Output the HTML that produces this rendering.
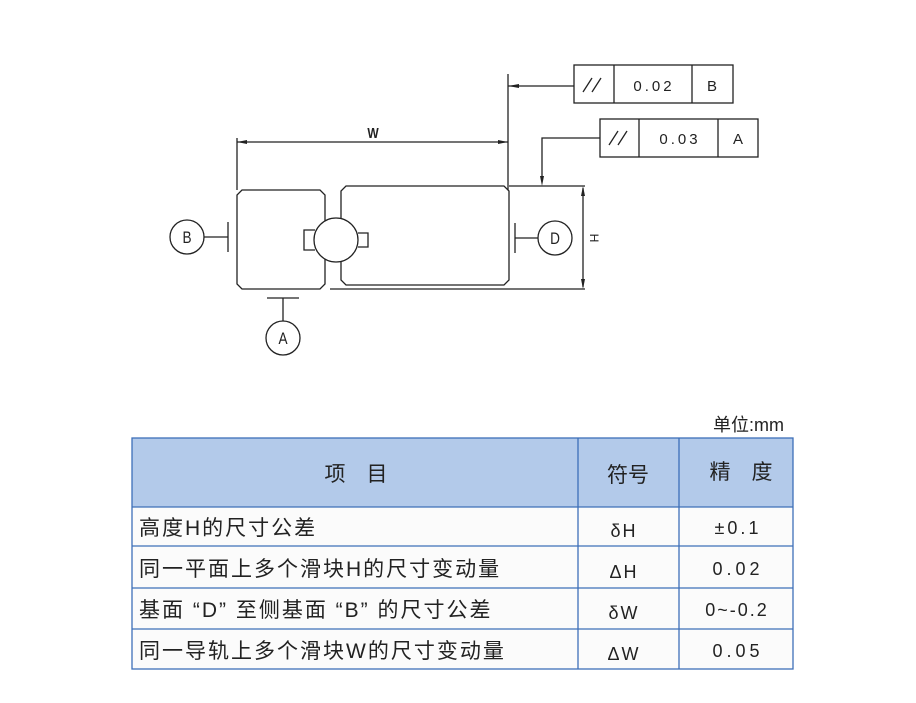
<!DOCTYPE html>
<html><head><meta charset="utf-8"><style>
html,body{margin:0;padding:0;background:#fff;}
body{width:916px;height:703px;overflow:hidden;}
svg{display:block;}
.c{font-family:"Liberation Sans","Noto Sans CJK SC",sans-serif;}
</style></head><body>
<svg width="916" height="703" viewBox="0 0 916 703" xmlns="http://www.w3.org/2000/svg">
<g stroke="#222" stroke-width="1.3" fill="none">
 <line x1="237" y1="142" x2="508" y2="142"/>
 <line x1="237" y1="138" x2="237" y2="190"/>
 <line x1="508" y1="74" x2="508" y2="190"/>
 <line x1="508" y1="86" x2="574" y2="86"/>
 <polyline points="600,138 542,138 542,180"/>
 <path d="M325,221 V195 L320,190 H242 L237,195 V284 L242,289 H320 L325,284 V258"/>
 <path d="M341,221 V191 L346,186 H504 L509,191 V280 L504,285 H346 L341,280 V258"/>
 <line x1="509" y1="186" x2="585" y2="186"/>
 <line x1="330" y1="289" x2="585" y2="289"/>
 <line x1="583" y1="188" x2="583" y2="287"/>
 <circle cx="336" cy="240" r="22" fill="#fff"/>
 <polyline points="315,230 304,230 304,250 315,250"/>
 <polyline points="358,233 368,233 368,247 358,247"/>
 <circle cx="187" cy="237" r="17"/>
 <line x1="204" y1="237" x2="228" y2="237"/>
 <line x1="228" y1="222" x2="228" y2="252"/>
 <circle cx="555" cy="238" r="17"/>
 <line x1="515" y1="238" x2="538" y2="238"/>
 <line x1="515" y1="223" x2="515" y2="253"/>
 <circle cx="283" cy="338" r="17"/>
 <line x1="283" y1="298" x2="283" y2="321"/>
 <line x1="267" y1="298" x2="299" y2="298"/>
 <rect x="574" y="65" width="159" height="38" fill="#fff"/>
 <line x1="614" y1="65" x2="614" y2="103"/>
 <line x1="692" y1="65" x2="692" y2="103"/>
 <rect x="600" y="119" width="158" height="38" fill="#fff"/>
 <line x1="639" y1="119" x2="639" y2="157"/>
 <line x1="718" y1="119" x2="718" y2="157"/>
 <line x1="583" y1="92" x2="592" y2="78"/>
 <line x1="592" y1="92" x2="601" y2="78"/>
 <line x1="609" y1="145" x2="618" y2="131"/>
 <line x1="618" y1="145" x2="627" y2="131"/>
</g>
<g fill="#222">
 <polygon points="237,142 247,140 247,144"/>
 <polygon points="508,142 498,140 498,144"/>
 <polygon points="508,86 519,84 519,88"/>
 <polygon points="542,186 540,176 544,176"/>
 <polygon points="583,186 581,196 585,196"/>
 <polygon points="583,289 581,279 585,279"/>
</g>
<g class="c" fill="#222" text-anchor="middle">
 <text x="373" y="138" font-size="15" transform="translate(373,0) scale(0.8,1) translate(-373,0)" font-weight="bold">W</text>
 <text x="187" y="243" font-size="17" transform="translate(187,0) scale(0.8,1) translate(-187,0)">B</text>
 <text x="555" y="244" font-size="17" transform="translate(555,0) scale(0.8,1) translate(-555,0)">D</text>
 <text x="283" y="344" font-size="17" transform="translate(283,0) scale(0.8,1) translate(-283,0)">A</text>
 <text transform="translate(590,238) rotate(90)" font-size="12">H</text>
 <text x="654" y="91" font-size="15" letter-spacing="3">0.02</text>
 <text x="712" y="91" font-size="15">B</text>
 <text x="680" y="144" font-size="15" letter-spacing="3">0.03</text>
 <text x="738" y="144" font-size="15">A</text>
</g>
<text class="c" x="784" y="431" font-size="18" text-anchor="end" fill="#222">单位:mm</text>
<rect x="132" y="438" width="661" height="69" fill="#b3caea"/>
<rect x="132" y="507" width="661" height="162" fill="#fbfbfb"/>
<g stroke="#3e6fb8" stroke-width="1.3" fill="none">
 <rect x="132" y="438" width="661" height="231"/>
 <line x1="132" y1="507" x2="793" y2="507"/>
 <line x1="132" y1="546" x2="793" y2="546"/>
 <line x1="132" y1="588" x2="793" y2="588"/>
 <line x1="132" y1="629" x2="793" y2="629"/>
 <line x1="578" y1="438" x2="578" y2="669"/>
 <line x1="679" y1="438" x2="679" y2="669"/>
</g>
<g class="c" fill="#222" font-size="21">
 <text x="356" y="481" text-anchor="middle">项　目</text>
 <text x="628" y="482" text-anchor="middle">符号</text>
 <text x="741" y="479" text-anchor="middle">精　度</text>
 <g letter-spacing="2">
 <text x="139" y="535">高度H的尺寸公差</text>
 <text x="139" y="576">同一平面上多个滑块H的尺寸变动量</text>
 <text x="139" y="617">基面 “D” 至侧基面 “B” 的尺寸公差</text>
 <text x="139" y="658">同一导轨上多个滑块W的尺寸变动量</text>
 </g>
 <g text-anchor="middle" font-size="18">
  <text x="624" y="537" letter-spacing="2">δH</text>
  <text x="624" y="578" letter-spacing="2">ΔH</text>
  <text x="624" y="619" letter-spacing="2">δW</text>
  <text x="624" y="660" letter-spacing="2">ΔW</text>
  <text x="738" y="534" letter-spacing="3">±0.1</text>
  <text x="738" y="575" letter-spacing="4">0.02</text>
  <text x="737" y="616" letter-spacing="2">0~-0.2</text>
  <text x="738" y="657" letter-spacing="4">0.05</text>
 </g>
</g>
</svg>
</body></html>
